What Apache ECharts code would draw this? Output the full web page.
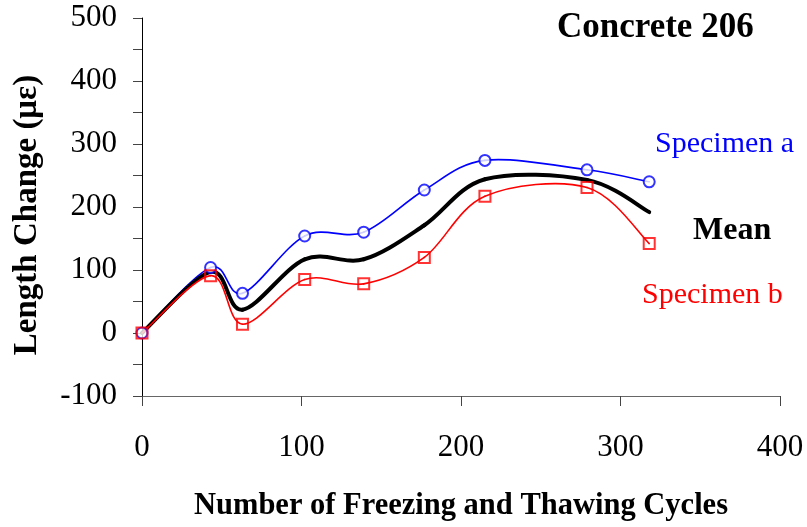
<!DOCTYPE html>
<html>
<head>
<meta charset="utf-8">
<script src="https://cdn.jsdelivr.net/npm/echarts@6/dist/echarts.min.js"></script>
<style>
  html, body { margin: 0; padding: 0; background: #fff; }
  #chart { width: 807px; height: 527px; }
</style>
</head>
<body>
<div id="chart"></div>
<script>
// cycles where the specimens were measured
var cycles = [0, 43, 63, 102, 139, 177, 215, 279, 318];
// length change, microstrain
var specimenA = [0, 104, 63, 154, 160, 227, 274, 259, 240];
var specimenB = [0, 91, 14, 85, 78, 120, 217, 231, 142];
var meanVals = [0, 97, 37, 117, 117, 171, 244, 243, 192];

var xTicks = [0, 100, 200, 300, 400];
var yTicks = [-100, 0, 100, 200, 300, 400, 500];

function pairs(ys) {
  return cycles.map(function (c, i) { return [c, ys[i]]; });
}

var serif = '"Liberation Serif", "Times New Roman", serif';

// spreadsheet-style smoothed line: one bezier piece per gap, catmull-rom controls
function smoothLine(ys, color, width) {
  var n = cycles.length;
  return {
    type: 'custom',
    data: pairs(ys),
    encode: { x: 0, y: 1 },
    silent: true,
    renderItem: function (params, api) {
      var i = params.dataIndex;
      if (i >= n - 1) return null;
      function pt(k) {
        k = Math.max(0, Math.min(n - 1, k));
        return api.coord([cycles[k], ys[k]]);
      }
      var p0 = pt(i - 1), p1 = pt(i), p2 = pt(i + 1), p3 = pt(i + 2);
      return {
        type: 'bezierCurve',
        shape: {
          x1: p1[0], y1: p1[1],
          x2: p2[0], y2: p2[1],
          cpx1: p1[0] + (p2[0] - p0[0]) / 6, cpy1: p1[1] + (p2[1] - p0[1]) / 6,
          cpx2: p2[0] - (p3[0] - p1[0]) / 6, cpy2: p2[1] - (p3[1] - p1[1]) / 6
        },
        style: { stroke: color, lineWidth: width, fill: null, lineCap: 'round' }
      };
    }
  };
}

var chart = echarts.init(document.getElementById('chart'), null, { renderer: 'canvas' });

var option = {
  animation: false,
  backgroundColor: '#fff',
  grid: { left: 142, right: 27, top: 18, bottom: 131 },
  xAxis: {
    type: 'value',
    min: xTicks[0],
    max: xTicks[xTicks.length - 1],
    interval: 100,
    name: 'Number of Freezing and Thawing Cycles',
    nameLocation: 'middle',
    nameGap: 95,
    nameTextStyle: { fontFamily: serif, fontSize: 30.5, fontWeight: 'bold', color: '#000' },
    axisLine: { onZero: false, lineStyle: { color: '#666', width: 1 } },
    axisTick: { inside: false, length: 10, lineStyle: { color: '#444' } },
    axisLabel: { margin: 36, fontFamily: serif, fontSize: 31, color: '#000' },
    splitLine: { show: false }
  },
  yAxis: {
    type: 'value',
    min: yTicks[0],
    max: yTicks[yTicks.length - 1],
    interval: 100,
    axisLine: { onZero: false, lineStyle: { color: '#000', width: 1 } },
    axisTick: { length: 9, lineStyle: { color: '#444' } },
    minorTick: { show: true, splitNumber: 2, length: 9, lineStyle: { color: '#444' } },
    axisLabel: { margin: 25, fontFamily: serif, fontSize: 31, color: '#000' },
    splitLine: { show: false }
  },
  series: [
    smoothLine(specimenA, '#0000ff', 1.6),
    {
      name: 'Specimen a',
      type: 'scatter',
      data: pairs(specimenA),
      symbol: 'emptyCircle',
      symbolSize: 11,
      itemStyle: { color: '#0000ff', borderColor: '#0000ff', borderWidth: 1.6 }
    },
    smoothLine(meanVals, '#000', 4),
    smoothLine(specimenB, '#ff0000', 1.6),
    {
      name: 'Specimen b',
      type: 'scatter',
      data: pairs(specimenB),
      symbol: 'rect',
      symbolSize: 11,
      itemStyle: { color: 'rgba(0,0,0,0)', borderColor: '#ff0000', borderWidth: 2 }
    }
  ],
  graphic: [
    {
      type: 'text', x: 27, y: 215, rotation: Math.PI / 2,
      style: {
        text: 'Length Change (με)', font: 'bold 33px ' + serif, fill: '#000',
        align: 'center', verticalAlign: 'middle'
      }
    },
    {
      type: 'text', left: 557, top: 10,
      style: { text: 'Concrete 206', font: 'bold 35px ' + serif, fill: '#000' }
    },
    {
      type: 'text', left: 655, top: 129,
      style: { text: 'Specimen a', font: '30px ' + serif, fill: '#0000ff' }
    },
    {
      type: 'text', left: 693, top: 215,
      style: { text: 'Mean', font: 'bold 32px ' + serif, fill: '#000' }
    },
    {
      type: 'text', left: 642, top: 280,
      style: { text: 'Specimen b', font: '30px ' + serif, fill: '#ff0000' }
    }
  ]
};

chart.setOption(option);
</script>
</body>
</html>
